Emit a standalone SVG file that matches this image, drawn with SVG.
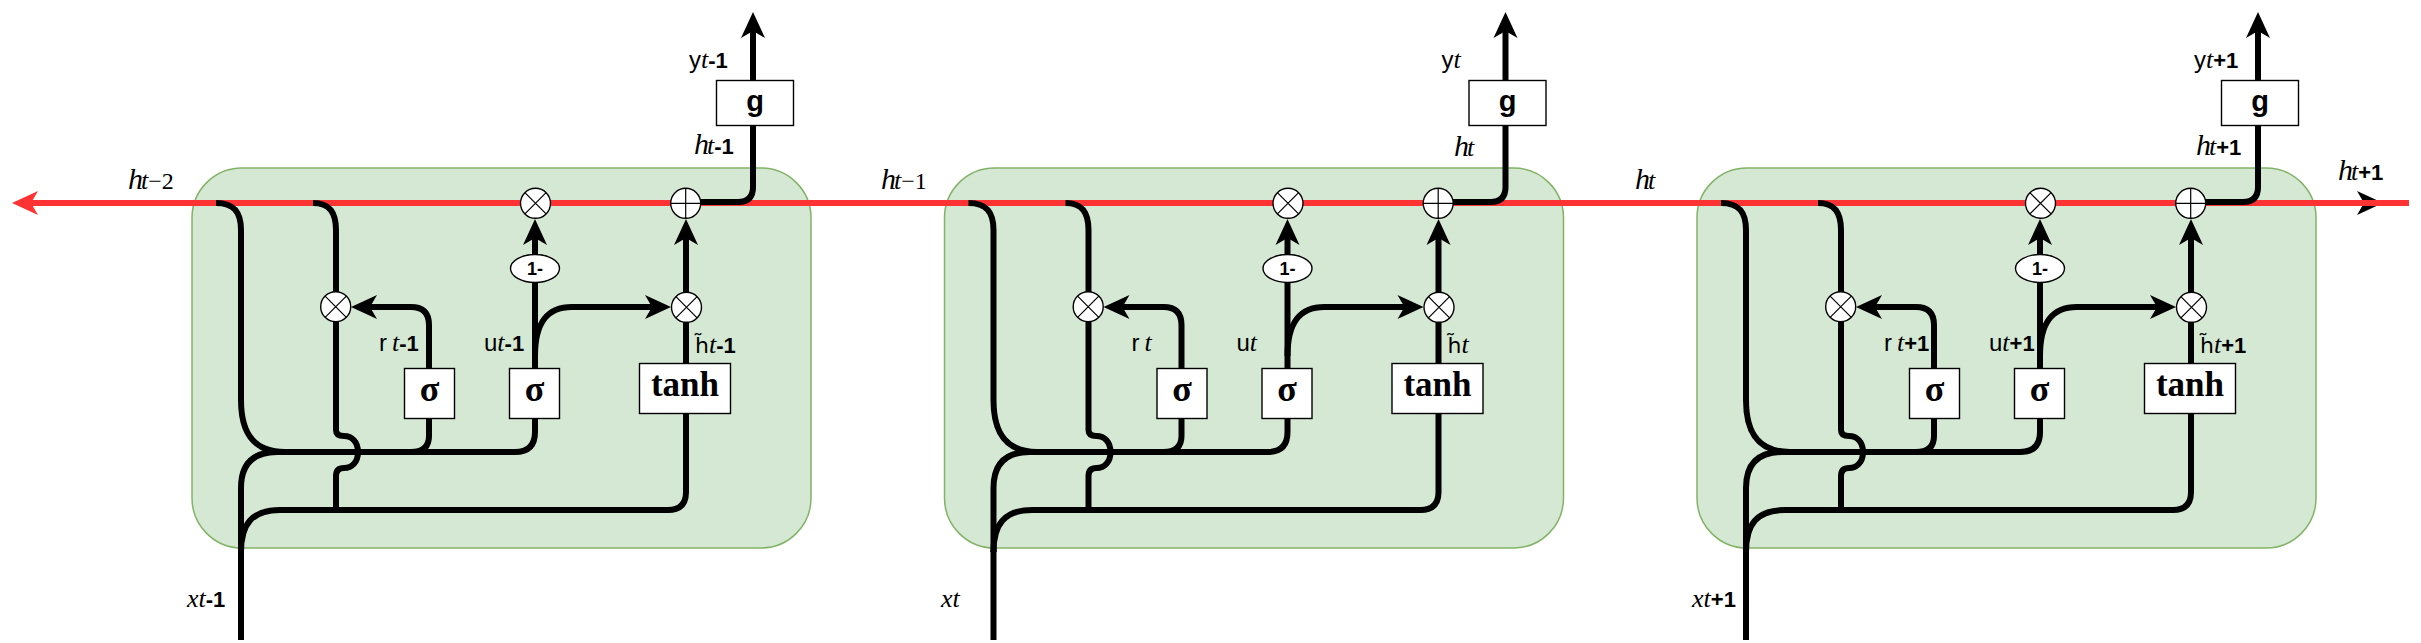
<svg xmlns="http://www.w3.org/2000/svg" width="2421" height="643" viewBox="0 0 2421 643">
<defs>
<style>
.cellbg{fill:#d5e8d4;stroke:#82b366;stroke-width:1.5}
.wire{fill:none;stroke:#000;stroke-width:6;stroke-linejoin:round}
.arr{marker-end:url(#ah)}
.red{fill:none;stroke:#ff3333;stroke-width:6;marker-end:url(#ahr)}
.box{fill:#fff;stroke:#000;stroke-width:1.4}
.op{fill:#fff;stroke:#000;stroke-width:1.4}
.opl{fill:none;stroke:#000;stroke-width:1.2}
.sans{font-family:"Liberation Sans",Arial,sans-serif;font-size:24px}
.ht{font-family:"DejaVu Sans","Liberation Sans",sans-serif;font-size:22px}
.sb{font-family:"Liberation Sans",Arial,sans-serif;font-weight:bold;font-size:22px}
.it{font-family:"Liberation Serif","Times New Roman",serif;font-style:italic;font-size:26px}
.hh{font-family:"Liberation Serif","Times New Roman",serif;font-style:italic;font-size:30px}
.ser{font-family:"Liberation Serif","Times New Roman",serif;font-size:24px}
.sig{font-family:"Liberation Serif","Times New Roman",serif;font-weight:bold;font-size:36px;text-anchor:middle}
.tanh{font-family:"Liberation Serif","Times New Roman",serif;font-weight:bold;font-size:35px;text-anchor:middle}
.gl{font-family:"Liberation Sans",Arial,sans-serif;font-weight:bold;font-size:29px;text-anchor:middle}
.om{font-family:"Liberation Sans",Arial,sans-serif;font-weight:bold;font-size:18px;text-anchor:middle}
</style>
<marker id="ah" markerUnits="userSpaceOnUse" orient="auto" refX="0" refY="0" markerWidth="40" markerHeight="40" viewBox="-20 -20 40 40" overflow="visible"><path d="M14,0 L-12,-12 L-5,0 L-12,12 Z" fill="#000"/></marker>
<marker id="ahr" markerUnits="userSpaceOnUse" orient="auto" refX="0" refY="0" markerWidth="40" markerHeight="40" viewBox="-20 -20 40 40" overflow="visible"><path d="M14,0 L-12,-12 L-5,0 L-12,12 Z" fill="#ff3333"/></marker>
<path id="xmark" d="M-10.6,-10.6 L10.6,10.6 M10.6,-10.6 L-10.6,10.6"/>
<path id="pmark" d="M-15,0 L15,0 M0,-15 L0,15"/>
</defs>

<!-- cell containers -->
<g id="cell1"><rect class="cellbg" x="192" y="168" width="619" height="380" rx="50" ry="50"/></g>
<g id="cell2"><rect class="cellbg" x="944.5" y="168" width="619" height="380" rx="50" ry="50"/></g>
<g id="cell3"><rect class="cellbg" x="1697" y="168" width="619" height="380" rx="50" ry="50"/></g>

<g id="connectors">
  <path class="wire arr" d="M2330,203 L2369,203"/>
  <path class="red" d="M2409,203 L26,203"/>
  <g id="wires1">
    <path class="wire" d="M216,203 C234,203 241,212 241,230 L241,400 C241,436 256,452 285,452"/>
    <path class="wire" d="M273,452 L515,452 Q535,452 535,432 L535,418"/>
    <path class="wire" d="M429,418 L429,436 Q429,452 411,452"/>
    <path class="wire" d="M241,640 L241,550"/>
    <path class="wire" d="M241,552 L241,488 C241,466 251,452 277,452"/>
    <path class="wire" d="M241,552 C241,524 252,510 280,510 L668,510 Q686,510 686,492 L686,413"/>
    <path class="wire" d="M313,203 C330,203 336,213 336,230 L336,430 Q336,436 344,436 C352,436 358,442 358,452 C358,462 352,468 344,468 Q336,468 336,476 L336,510"/>
    <path class="wire arr" d="M429,368 L429,325 Q429,307 411,307 L365,307"/>
    <path class="wire" d="M535,368 L535,282"/>
    <path class="wire arr" d="M535,356 C535,324 546,307 572,307 L657,307"/>
    <path class="wire arr" d="M535,254 L535,233"/>
    <path class="wire" d="M686,363 L686,322"/>
    <path class="wire arr" d="M686,292 L686,233"/>
    <path class="wire" d="M700,202 L738,202 Q753,202 753,187 L753,125"/>
    <path class="wire arr" d="M753,80 L753,26"/>
  </g>
  <g id="wires2" transform="translate(752.5,0)">
    <path class="wire" d="M216,203 C234,203 241,212 241,230 L241,400 C241,436 256,452 285,452"/>
    <path class="wire" d="M273,452 L515,452 Q535,452 535,432 L535,418"/>
    <path class="wire" d="M429,418 L429,436 Q429,452 411,452"/>
    <path class="wire" d="M241,640 L241,550"/>
    <path class="wire" d="M241,552 L241,488 C241,466 251,452 277,452"/>
    <path class="wire" d="M241,552 C241,524 252,510 280,510 L668,510 Q686,510 686,492 L686,413"/>
    <path class="wire" d="M313,203 C330,203 336,213 336,230 L336,430 Q336,436 344,436 C352,436 358,442 358,452 C358,462 352,468 344,468 Q336,468 336,476 L336,510"/>
    <path class="wire arr" d="M429,368 L429,325 Q429,307 411,307 L365,307"/>
    <path class="wire" d="M535,368 L535,282"/>
    <path class="wire arr" d="M535,356 C535,324 546,307 572,307 L657,307"/>
    <path class="wire arr" d="M535,254 L535,233"/>
    <path class="wire" d="M686,363 L686,322"/>
    <path class="wire arr" d="M686,292 L686,233"/>
    <path class="wire" d="M700,202 L738,202 Q753,202 753,187 L753,125"/>
    <path class="wire arr" d="M753,80 L753,26"/>
  </g>
  <g id="wires3" transform="translate(1505,0)">
    <path class="wire" d="M216,203 C234,203 241,212 241,230 L241,400 C241,436 256,452 285,452"/>
    <path class="wire" d="M273,452 L515,452 Q535,452 535,432 L535,418"/>
    <path class="wire" d="M429,418 L429,436 Q429,452 411,452"/>
    <path class="wire" d="M241,640 L241,550"/>
    <path class="wire" d="M241,552 L241,488 C241,466 251,452 277,452"/>
    <path class="wire" d="M241,552 C241,524 252,510 280,510 L668,510 Q686,510 686,492 L686,413"/>
    <path class="wire" d="M313,203 C330,203 336,213 336,230 L336,430 Q336,436 344,436 C352,436 358,442 358,452 C358,462 352,468 344,468 Q336,468 336,476 L336,510"/>
    <path class="wire arr" d="M429,368 L429,325 Q429,307 411,307 L365,307"/>
    <path class="wire" d="M535,368 L535,282"/>
    <path class="wire arr" d="M535,356 C535,324 546,307 572,307 L657,307"/>
    <path class="wire arr" d="M535,254 L535,233"/>
    <path class="wire" d="M686,363 L686,322"/>
    <path class="wire arr" d="M686,292 L686,233"/>
    <path class="wire" d="M700,202 L738,202 Q753,202 753,187 L753,125"/>
    <path class="wire arr" d="M753,80 L753,26"/>
  </g>
</g>

<!-- nodes cell 1 -->
<g id="c1-nodes">
  <g id="c1-sigma-r"><rect class="box" x="404.5" y="368.5" width="50" height="50"/><text class="sig" x="429.5" y="401">σ</text></g>
  <g id="c1-sigma-u"><rect class="box" x="509.5" y="368.5" width="50" height="50"/><text class="sig" x="534.5" y="401">σ</text></g>
  <g id="c1-tanh"><rect class="box" x="639.5" y="363.5" width="91" height="50"/><text class="tanh" x="685" y="396">tanh</text></g>
  <g id="c1-g"><rect class="box" x="716.5" y="80.5" width="77" height="45"/><text class="gl" x="755" y="111">g</text></g>
  <g id="c1-oneminus"><ellipse class="op" cx="535" cy="268.5" rx="24.5" ry="14"/><text class="om" x="535" y="275">1-</text></g>
  <g id="c1-mul-r" transform="translate(335.7,306.7)"><circle class="op" r="15"/><use href="#xmark" class="opl"/></g>
  <g id="c1-mul-u" transform="translate(535.5,203.3)"><circle class="op" r="15"/><use href="#xmark" class="opl"/></g>
  <g id="c1-add" transform="translate(685.7,203.3)"><circle class="op" r="15"/><use href="#pmark" class="opl"/></g>
  <g id="c1-mul-h" transform="translate(686.5,307.3)"><circle class="op" r="15"/><use href="#xmark" class="opl"/></g>
</g>
<g id="c2-nodes" transform="translate(752.5,0)">
  <g id="c2-sigma-r"><rect class="box" x="404.5" y="368.5" width="50" height="50"/><text class="sig" x="429.5" y="401">σ</text></g>
  <g id="c2-sigma-u"><rect class="box" x="509.5" y="368.5" width="50" height="50"/><text class="sig" x="534.5" y="401">σ</text></g>
  <g id="c2-tanh"><rect class="box" x="639.5" y="363.5" width="91" height="50"/><text class="tanh" x="685" y="396">tanh</text></g>
  <g id="c2-g"><rect class="box" x="716.5" y="80.5" width="77" height="45"/><text class="gl" x="755" y="111">g</text></g>
  <g id="c2-oneminus"><ellipse class="op" cx="535" cy="268.5" rx="24.5" ry="14"/><text class="om" x="535" y="275">1-</text></g>
  <g id="c2-mul-r" transform="translate(335.7,306.7)"><circle class="op" r="15"/><use href="#xmark" class="opl"/></g>
  <g id="c2-mul-u" transform="translate(535.5,203.3)"><circle class="op" r="15"/><use href="#xmark" class="opl"/></g>
  <g id="c2-add" transform="translate(685.7,203.3)"><circle class="op" r="15"/><use href="#pmark" class="opl"/></g>
  <g id="c2-mul-h" transform="translate(686.5,307.3)"><circle class="op" r="15"/><use href="#xmark" class="opl"/></g>
</g>
<g id="c3-nodes" transform="translate(1505,0)">
  <g id="c3-sigma-r"><rect class="box" x="404.5" y="368.5" width="50" height="50"/><text class="sig" x="429.5" y="401">σ</text></g>
  <g id="c3-sigma-u"><rect class="box" x="509.5" y="368.5" width="50" height="50"/><text class="sig" x="534.5" y="401">σ</text></g>
  <g id="c3-tanh"><rect class="box" x="639.5" y="363.5" width="91" height="50"/><text class="tanh" x="685" y="396">tanh</text></g>
  <g id="c3-g"><rect class="box" x="716.5" y="80.5" width="77" height="45"/><text class="gl" x="755" y="111">g</text></g>
  <g id="c3-oneminus"><ellipse class="op" cx="535" cy="268.5" rx="24.5" ry="14"/><text class="om" x="535" y="275">1-</text></g>
  <g id="c3-mul-r" transform="translate(335.7,306.7)"><circle class="op" r="15"/><use href="#xmark" class="opl"/></g>
  <g id="c3-mul-u" transform="translate(535.5,203.3)"><circle class="op" r="15"/><use href="#xmark" class="opl"/></g>
  <g id="c3-add" transform="translate(685.7,203.3)"><circle class="op" r="15"/><use href="#pmark" class="opl"/></g>
  <g id="c3-mul-h" transform="translate(686.5,307.3)"><circle class="op" r="15"/><use href="#xmark" class="opl"/></g>
</g>

<!-- labels -->
<g id="labels">
  <!-- hidden-state labels on red line -->
  <text x="128" y="189"><tspan class="hh">h</tspan><tspan class="it" dx="-2">t</tspan><tspan class="ser">−2</tspan></text>
  <text x="881" y="189"><tspan class="hh">h</tspan><tspan class="it" dx="-2">t</tspan><tspan class="ser">−1</tspan></text>
  <text x="1635" y="189"><tspan class="hh">h</tspan><tspan class="it" dx="-2">t</tspan></text>
  <text x="2338" y="180"><tspan class="hh">h</tspan><tspan class="it" dx="-2">t</tspan><tspan class="sb">+1</tspan></text>

  <!-- cell 1 -->
  <text x="689" y="68"><tspan class="sans">y</tspan><tspan class="it">t</tspan><tspan class="sb">-1</tspan></text>
  <text x="694" y="154"><tspan class="hh">h</tspan><tspan class="it" dx="-2">t</tspan><tspan class="sb">-1</tspan></text>
  <text x="695" y="353"><tspan class="ht">h̃</tspan><tspan class="it">t</tspan><tspan class="sb">-1</tspan></text>
  <text x="379" y="351"><tspan class="sans">r</tspan><tspan class="it" dx="5">t</tspan><tspan class="sb">-1</tspan></text>
  <text x="484" y="351"><tspan class="sans">u</tspan><tspan class="it">t</tspan><tspan class="sb">-1</tspan></text>
  <text x="187" y="607"><tspan class="it" font-size="28">x</tspan><tspan class="it">t</tspan><tspan class="sb">-1</tspan></text>

  <!-- cell 2 -->
  <text x="1441.5" y="68"><tspan class="sans">y</tspan><tspan class="it">t</tspan></text>
  <text x="1454" y="156"><tspan class="hh">h</tspan><tspan class="it" dx="-2">t</tspan></text>
  <text x="1447.5" y="353"><tspan class="ht">h̃</tspan><tspan class="it">t</tspan></text>
  <text x="1131.5" y="351"><tspan class="sans">r</tspan><tspan class="it" dx="5">t</tspan></text>
  <text x="1236.5" y="351"><tspan class="sans">u</tspan><tspan class="it">t</tspan></text>
  <text x="941" y="607"><tspan class="it" font-size="28">x</tspan><tspan class="it">t</tspan></text>

  <!-- cell 3 -->
  <text x="2194" y="68"><tspan class="sans">y</tspan><tspan class="it">t</tspan><tspan class="sb">+1</tspan></text>
  <text x="2196" y="155"><tspan class="hh">h</tspan><tspan class="it" dx="-2">t</tspan><tspan class="sb">+1</tspan></text>
  <text x="2200" y="353"><tspan class="ht">h̃</tspan><tspan class="it">t</tspan><tspan class="sb">+1</tspan></text>
  <text x="1884" y="351"><tspan class="sans">r</tspan><tspan class="it" dx="5">t</tspan><tspan class="sb">+1</tspan></text>
  <text x="1989" y="351"><tspan class="sans">u</tspan><tspan class="it">t</tspan><tspan class="sb">+1</tspan></text>
  <text x="1692" y="607"><tspan class="it" font-size="28">x</tspan><tspan class="it">t</tspan><tspan class="sb">+1</tspan></text>
</g>
</svg>
